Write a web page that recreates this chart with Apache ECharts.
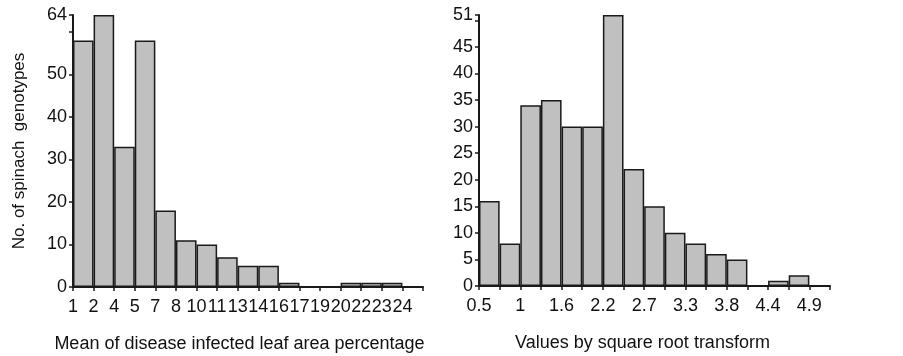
<!DOCTYPE html>
<html>
<head>
<meta charset="utf-8">
<script src="https://cdn.jsdelivr.net/npm/echarts@6/dist/echarts.min.js"></script>
<style>
html,body{margin:0;padding:0;background:#fff;}
#c{width:903px;height:356px;}
</style>
</head>
<body>
<div id="c"></div>
<script>
// Left histogram: disease infected leaf area percentage
var leftBins = ['b1','b2','b3','b4','b5','b6','b7','b8','b9','b10','b11','b12','b13','b14','b15','b16','b17'];
var leftCounts = [58, 64, 33, 58, 18, 11, 10, 7, 5, 5, 1, 0, 0, 1, 1, 1, 0];
var leftEdgeLabels = ['1','2','4','5','7','8','10','11','13','14','16','17','19','20','22','23','24',''];
var leftYMax = 64;

// Right histogram: square root transform
var rightBins = ['c1','c2','c3','c4','c5','c6','c7','c8','c9','c10','c11','c12','c13','c14','c15','c16','c17'];
var rightCounts = [16, 8, 34, 35, 30, 30, 51, 22, 15, 10, 8, 6, 5, 0, 1, 2, 0];
var rightEdgeLabels = ['0.5','','1','','1.6','','2.2','','2.7','','3.3','','3.8','','4.4','','4.9',''];
var rightYMax = 51;

var ink = '#1a1a1a';
var font = 'Liberation Sans, Arial, sans-serif';
var chart = echarts.init(document.getElementById('c'));

function barAxis(gridIndex, cats) {
  return {
    type: 'category', gridIndex: gridIndex, data: cats, boundaryGap: true, position: 'bottom',
    axisLine: {show: true, lineStyle: {color: ink, width: 2}},
    axisTick: {show: false}, axisLabel: {show: false}, splitLine: {show: false}
  };
}
function edgeAxis(gridIndex, labels, name, padRight) {
  return {
    type: 'category', gridIndex: gridIndex, data: labels, boundaryGap: false, position: 'bottom', offset: 0,
    axisLine: {show: false},
    axisTick: {show: true, interval: 0, length: 4, inside: false, lineStyle: {color: ink, width: 1.5}},
    axisLabel: {interval: 0, color: '#111', fontSize: 18, fontFamily: font, margin: 11},
    splitLine: {show: false},
    name: name, nameLocation: 'middle', nameGap: 48,
    nameTextStyle: {color: '#111', fontSize: 18, fontFamily: font, padding: [0, padRight, 0, 0]}
  };
}
function yAxis(gridIndex, max, interval, hideVal, name) {
  return {
    type: 'value', gridIndex: gridIndex, min: 0, max: max, interval: interval,
    axisLine: {show: true, lineStyle: {color: ink, width: 2}},
    axisTick: {show: true, length: 4, lineStyle: {color: ink, width: 1.5}},
    axisLabel: {color: '#111', fontSize: 18, fontFamily: font, margin: 6,
      formatter: function (v) { return v === hideVal ? '' : String(v); }},
    splitLine: {show: false},
    name: name, nameLocation: 'middle', nameGap: 45, nameRotate: 90,
    nameTextStyle: {color: '#111', fontSize: 17, fontFamily: font}
  };
}

chart.setOption({
  animation: false,
  backgroundColor: '#fff',
  grid: [
    {left: 73, top: 15, width: 350, height: 272, containLabel: false, outerBoundsMode: 'none'},
    {left: 479, top: 15, width: 351, height: 271, containLabel: false, outerBoundsMode: 'none'}
  ],
  xAxis: [
    barAxis(0, leftBins),
    edgeAxis(0, leftEdgeLabels, 'Mean of disease infected leaf area percentage', 17),
    barAxis(1, rightBins),
    edgeAxis(1, rightEdgeLabels, 'Values by square root transform', 24)
  ],
  yAxis: [
    yAxis(0, leftYMax, 10, 60, 'No. of spinach  genotypes'),
    yAxis(1, rightYMax, 5, 50, '')
  ],
  series: [
    {type: 'bar', xAxisIndex: 0, yAxisIndex: 0, data: leftCounts, barCategoryGap: '0%',
     itemStyle: {color: '#c0c0c0', borderColor: ink, borderWidth: 1.5}},
    {type: 'bar', xAxisIndex: 2, yAxisIndex: 1, data: rightCounts, barCategoryGap: '0%',
     itemStyle: {color: '#c0c0c0', borderColor: ink, borderWidth: 1.5}}
  ]
});
</script>
</body>
</html>
